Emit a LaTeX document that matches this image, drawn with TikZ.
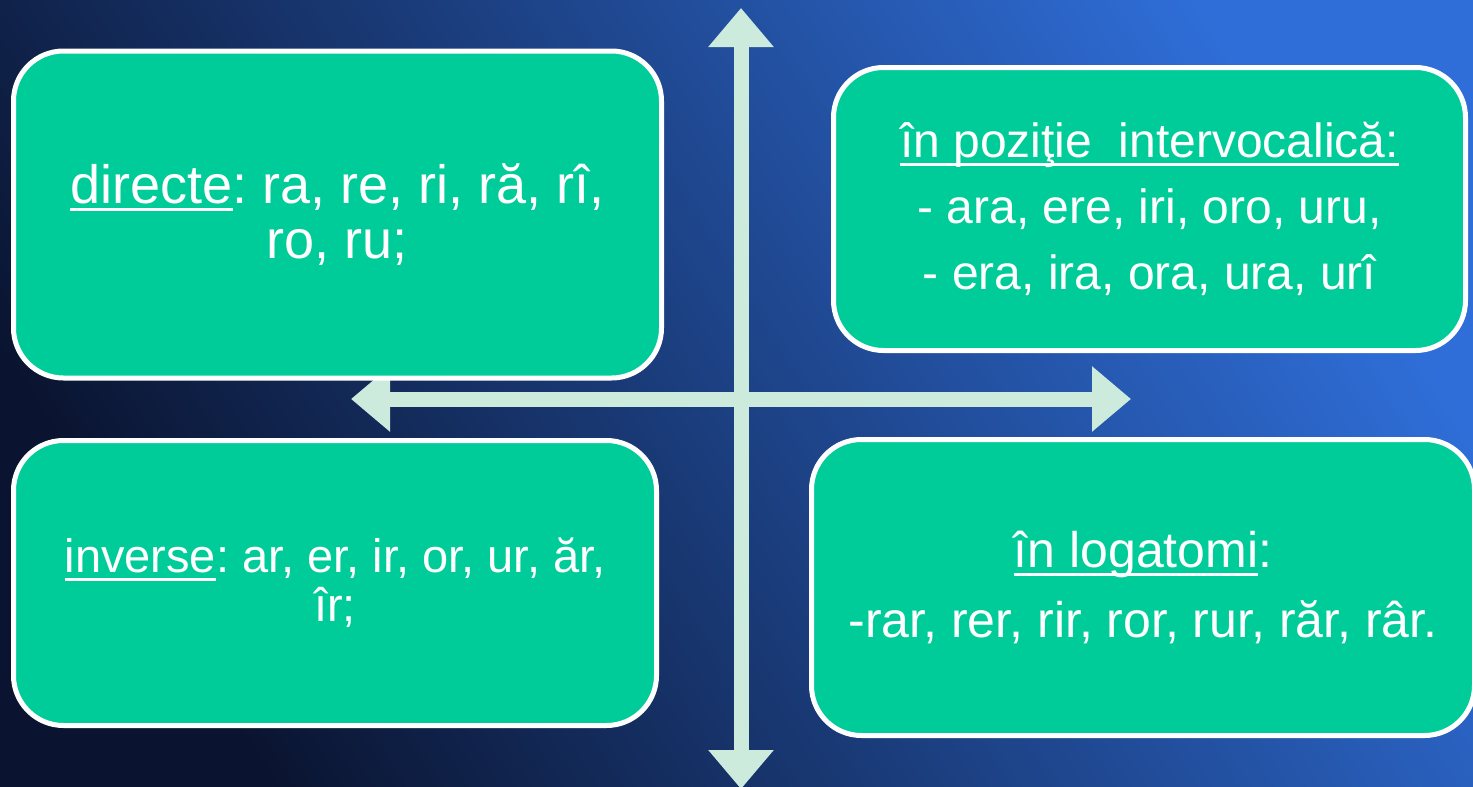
\documentclass[tikz,border=0pt]{standalone}
\usepackage{fontspec}
\setmainfont{Liberation Sans}
\usetikzlibrary{arrows.meta}
\frenchspacing

\definecolor{bgdark}{HTML}{0A1430}
\definecolor{bgmid}{HTML}{173E88}
\definecolor{bglight}{HTML}{2F6ED8}
\definecolor{boxgreen}{HTML}{00CC99}
\definecolor{axecol}{HTML}{CCEBDD}

\newsavebox\ulbox
\newcommand\ulbar[1]{\sbox\ulbox{#1}\rlap{\rule[-4pt]{\wd\ulbox}{1.5pt}}\usebox\ulbox}

\begin{document}
\begin{tikzpicture}[
        x=0.5pt,y=-0.5pt,
        box/.style={draw=white,line width=2.5pt,fill=boxgreen,text=white,
            rounded corners=25pt,align=center,inner sep=0pt},
        axe/.style={draw=axecol,line width=7.5pt,<->,
            >={Triangle[length=19.5pt,width=31.5pt]}},
        ]
    \useasboundingbox (0,0) rectangle (1473,787);
    \fill[bottom color=bgdark,middle color=bgmid,top color=bglight,shading angle=-58]
        (0,0) rectangle (1473,787);

    % the cross
    \coordinate (vtop) at (741,8);
    \coordinate (vbot) at (741,789);
    \coordinate (hleft) at (351,399);
    \coordinate (hright) at (1131,399);
    \draw[axe] (vbot) -- (vtop);
    \draw[axe] (hleft) -- (hright);

    % the four boxes
    \node (direct) [box,minimum width=324pt,minimum height=163.5pt,
        font=\fontsize{27}{27.5}\selectfont] at (337.5,214.5)
        {\ulbar{directe}: ra, re, ri, ră, rî,\\ ro, ru;};
    \node (interv) [box,minimum width=316pt,minimum height=141.5pt,
        font=\fontsize{24}{33}\selectfont] at (1149.5,209)
        {\ulbar{în poziţie\ \ intervocalică:}\\ - ara, ere, iri, oro, uru,\\ - era, ira, ora, ura, urî};
    \node (invers) [box,minimum width=321.5pt,minimum height=142.5pt,
        font=\fontsize{23.5}{24.5}\selectfont] at (335,583)
        {\ulbar{inverse}: ar, er, ir, or, ur, ăr,\\ îr;};
    \node (logat) [box,minimum width=331.5pt,minimum height=148pt,
        font=\fontsize{25}{35}\selectfont] at (1143,587.5)
        {\ulbar{în logatomi}:\\ -rar, rer, rir, ror, rur, răr, râr.};
\end{tikzpicture}
\end{document}
